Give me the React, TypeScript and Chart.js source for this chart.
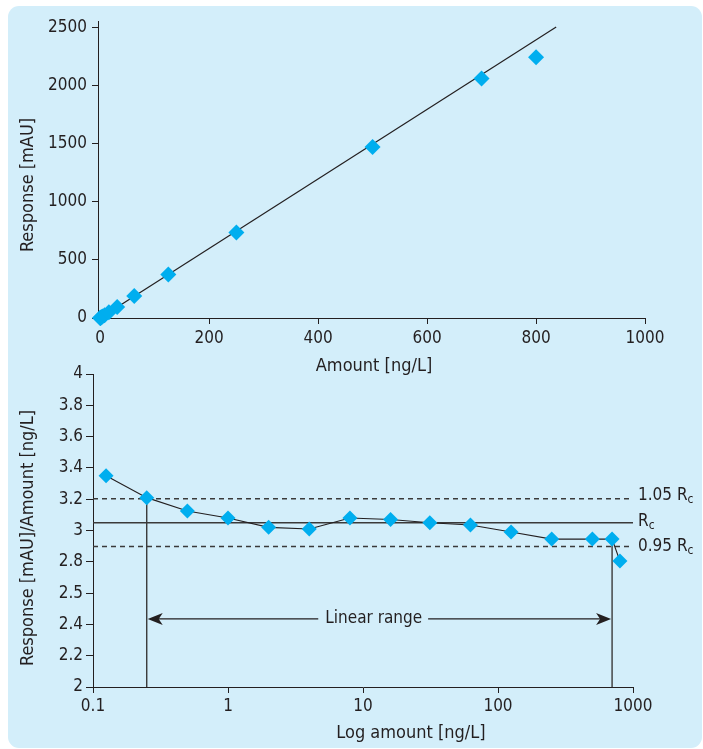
import { useEffect, useRef } from "react";
import { Chart, registerables } from "chart.js";

Chart.register(...registerables);

// ---------- data ----------
const amounts = [0.125, 0.25, 0.5, 1, 2, 4, 8, 16, 31.25, 62.5, 125, 250, 500, 700, 800];
const responses = [0.42, 0.8, 1.56, 3.08, 6.04, 12.0, 24.6, 49.1, 95.3, 189.7, 373.8, 736, 1472, 2062, 2244];
const ratios = [3.35, 3.21, 3.125, 3.08, 3.02, 3.01, 3.08, 3.07, 3.05, 3.035, 2.99, 2.945, 2.945, 2.945, 2.805];
const fitLineX = [0, 837];
const fitLineY = [0, 2505];
const amountTicks = [0, 200, 400, 600, 800, 1000];
const responseTicks = [0, 500, 1000, 1500, 2000, 2500];
const logTicks = [0.1, 1, 10, 100, 1000];
const logTickLabels = ["0.1", "1", "10", "100", "1000"];
const ratioTicks = [2, 2.2, 2.4, 2.6, 2.8, 3, 3.2, 3.4, 3.6, 3.8, 4];
const ratioTickLabels = ["2", "2.2", "2.4", "2.5", "2.8", "3", "3.2", "3.4", "3.6", "3.8", "4"];
const rcValue = 3.05;
const rcLevels = [3.2025, 3.05, 2.8975];
const rcLabels = ["1.05 R", "R", "0.95 R"];
const rcSub = "c";
const rangeX = [0.1, 1000];
const linearRange = [0.25, 700];
const linearRangeTop = [3.2025, 2.945];
const arrowLevel = 2.435;
const arrowLabel = "Linear range";
const arrowLabelAt = 12;

// ---------- styles ----------
const TEXT = "#231f20";
const MARK = "#00aeef";
const REF = "#3a3a3a";
const PANEL = "#d3eefa";
const FONT = '"DejaVu Sans Condensed", "Liberation Sans Narrow", sans-serif';
const TICK_SIZE = 17;
const TITLE_SIZE = 18;

function axis(values: number[], labels: string[] | null, tickLen: number, pad: number) {
  return {
    border: { display: true, color: TEXT, width: 1 },
    grid: {
      display: true,
      drawOnChartArea: false,
      drawTicks: true,
      tickLength: tickLen,
      color: TEXT,
      lineWidth: 1,
    },
    ticks: {
      color: TEXT,
      font: { family: FONT, size: TICK_SIZE },
      padding: pad,
      autoSkip: false,
      maxRotation: 0,
      callback: (v: any, i: number) => (labels ? labels[i] : String(values[i])),
    },
    afterBuildTicks: (s: any) => {
      s.ticks = values.map((v) => ({ value: v }));
    },
  };
}

function drawText(ctx: CanvasRenderingContext2D, text: string, x: number, y: number, rot = 0, size = TITLE_SIZE) {
  ctx.save();
  ctx.translate(x, y);
  ctx.rotate(rot);
  ctx.font = `${size}px ${FONT}`;
  ctx.fillStyle = TEXT;
  ctx.textAlign = "center";
  ctx.textBaseline = "middle";
  ctx.fillText(text, 0, 0);
  ctx.restore();
}

function TopChart() {
  const ref = useRef<HTMLCanvasElement | null>(null);
  useEffect(() => {
    if (!ref.current) return;
    const titles = {
      id: "titlesTop",
      afterDraw(chart: any) {
        const ctx = chart.ctx;
        drawText(ctx, "Response [mAU]", 28, 185, -Math.PI / 2);
        drawText(ctx, "Amount [ng/L]", 374, 366);
      },
    };
    const chart = new Chart(ref.current, {
      type: "scatter",
      data: {
        datasets: [
          {
            data: amounts.map((x, i) => ({ x, y: responses[i] })),
            pointStyle: "rectRot",
            pointRadius: 8,
            pointHoverRadius: 8,
            backgroundColor: MARK,
            borderColor: MARK,
            borderWidth: 0,
            clip: false,
            order: 0,
          } as any,
          {
            data: fitLineX.map((x, i) => ({ x, y: fitLineY[i] })),
            showLine: true,
            borderColor: TEXT,
            borderWidth: 1.2,
            pointRadius: 0,
            clip: false,
            order: 1,
          } as any,
        ],
      },
      options: {
        responsive: false,
        animation: false,
        events: [],
        layout: { padding: { left: 48, top: 21, right: 58, bottom: 22 } },
        plugins: { legend: { display: false }, tooltip: { enabled: false } },
        scales: {
          x: {
            type: "linear",
            min: -4,
            max: 1000,
            ...axis(amountTicks, null, 6, 4),
            afterFit: (s: any) => {
              s.height = 40;
            },
          } as any,
          y: {
            type: "linear",
            min: 0,
            max: 2557,
            ...axis(responseTicks, null, 6, 5),
            afterFit: (s: any) => {
              s.width = 50;
            },
          } as any,
        },
      },
      plugins: [titles],
    });
    return () => chart.destroy();
  }, []);
  return (
    <canvas
      ref={ref}
      width={703}
      height={380}
      style={{ position: "absolute", left: 0, top: 0, width: 703, height: 380, display: "block" }}
    />
  );
}

function BottomChart() {
  const ref = useRef<HTMLCanvasElement | null>(null);
  useEffect(() => {
    if (!ref.current) return;
    const extras = {
      id: "extrasBottom",
      afterDatasetsDraw(chart: any) {
        const { ctx, scales } = chart;
        const xs = scales.x;
        const ys = scales.y;
        const yy = ys.getPixelForValue(arrowLevel);
        const x0 = xs.getPixelForValue(linearRange[0]);
        const x1 = xs.getPixelForValue(linearRange[1]);
        const cx = xs.getPixelForValue(arrowLabelAt);
        ctx.save();
        ctx.font = `${TICK_SIZE}px ${FONT}`;
        const w = ctx.measureText(arrowLabel).width;
        ctx.strokeStyle = TEXT;
        ctx.fillStyle = TEXT;
        ctx.lineWidth = 1.2;
        ctx.beginPath();
        ctx.moveTo(x0 + 4, yy);
        ctx.lineTo(cx - w / 2 - 7, yy);
        ctx.moveTo(cx + w / 2 + 6, yy);
        ctx.lineTo(x1 - 4, yy);
        ctx.stroke();
        const head = (tip: number, dir: number) => {
          ctx.beginPath();
          ctx.moveTo(tip, yy);
          ctx.lineTo(tip + dir * 15, yy - 6);
          ctx.lineTo(tip + dir * 11, yy);
          ctx.lineTo(tip + dir * 15, yy + 6);
          ctx.closePath();
          ctx.fill();
        };
        head(x0 + 1, 1);
        head(x1 - 1, -1);
        ctx.textAlign = "center";
        ctx.textBaseline = "middle";
        ctx.fillText(arrowLabel, cx, yy);
        ctx.restore();
      },
      afterDraw(chart: any) {
        const { ctx, scales } = chart;
        const ys = scales.y;
        const offsets = [1, 3, 4];
        ctx.save();
        ctx.fillStyle = TEXT;
        ctx.textAlign = "left";
        ctx.textBaseline = "alphabetic";
        rcLevels.forEach((lv, i) => {
          const py = ys.getPixelForValue(lv) + offsets[i];
          ctx.font = `${TICK_SIZE}px ${FONT}`;
          ctx.fillText(rcLabels[i], 638, py);
          const w = ctx.measureText(rcLabels[i]).width;
          ctx.font = `12px ${FONT}`;
          ctx.fillText(rcSub, 638 + w, py + 3);
        });
        ctx.restore();
        drawText(ctx, "Response [mAU]/Amount [ng/L]", 28, 188, -Math.PI / 2);
        drawText(ctx, "Log amount [ng/L]", 411, 383);
      },
    };
    const refLine = (y: number, dash: number[]) =>
      ({
        data: rangeX.map((x) => ({ x, y })),
        showLine: true,
        borderColor: REF,
        borderWidth: 1.4,
        borderDash: dash,
        pointRadius: 0,
        clip: false,
        order: 2,
      }) as any;
    const vLine = (i: number) =>
      ({
        data: [
          { x: linearRange[i], y: ratioTicks[0] },
          { x: linearRange[i], y: linearRangeTop[i] },
        ],
        showLine: true,
        borderColor: REF,
        borderWidth: 1.4,
        pointRadius: 0,
        clip: false,
        order: 2,
      }) as any;
    const chart = new Chart(ref.current, {
      type: "scatter",
      data: {
        datasets: [
          {
            data: amounts.map((x, i) => ({ x, y: ratios[i] })),
            showLine: true,
            borderColor: TEXT,
            borderWidth: 1.1,
            pointStyle: "rectRot",
            pointRadius: 7.5,
            pointHoverRadius: 7.5,
            backgroundColor: MARK,
            pointBackgroundColor: MARK,
            pointBorderColor: MARK,
            pointBorderWidth: 0,
            clip: false,
            order: 0,
          } as any,
          refLine(rcLevels[0], [5, 4]),
          refLine(rcValue, []),
          refLine(rcLevels[2], [5, 4]),
          vLine(0),
          vLine(1),
        ],
      },
      options: {
        responsive: false,
        animation: false,
        events: [],
        layout: { padding: { left: 43, top: 24, right: 70, bottom: 22 } },
        plugins: { legend: { display: false }, tooltip: { enabled: false } },
        scales: {
          x: {
            type: "logarithmic",
            min: 0.1,
            max: 1000,
            ...axis(logTicks, logTickLabels, 6, 3),
            afterFit: (s: any) => {
              s.height = 40;
            },
          } as any,
          y: {
            type: "linear",
            min: 2,
            max: 4,
            ...axis(ratioTicks, ratioTickLabels, 7, 3),
            afterFit: (s: any) => {
              s.width = 50;
            },
          } as any,
        },
      },
      plugins: [extras],
    });
    return () => chart.destroy();
  }, []);
  return (
    <canvas
      ref={ref}
      width={703}
      height={399}
      style={{ position: "absolute", left: 0, top: 350, width: 703, height: 399, display: "block" }}
    />
  );
}

export default function App() {
  return (
    <div style={{ position: "absolute", left: 0, top: 0, width: 703, height: 749, overflow: "hidden" }}>
      <div
        style={{
          position: "absolute",
          left: 8,
          top: 6,
          width: 694,
          height: 742,
          background: PANEL,
          borderRadius: 11,
        }}
      />
      <TopChart />
      <BottomChart />
    </div>
  );
}
